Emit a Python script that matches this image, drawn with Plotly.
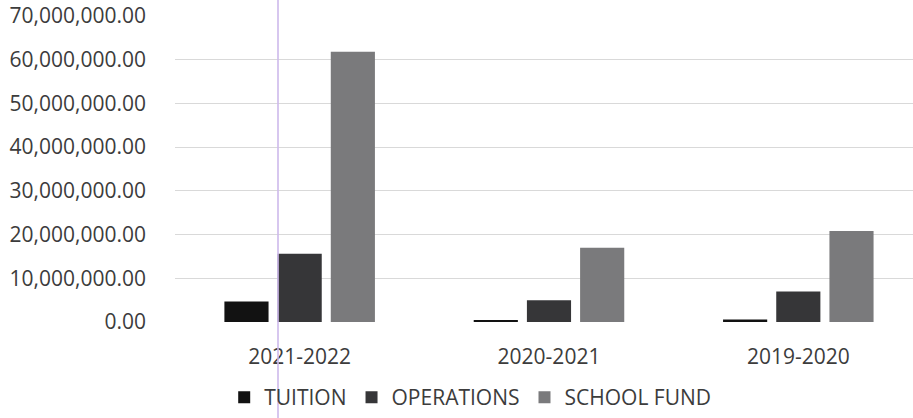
import plotly.graph_objects as go

# School years on the category axis
years = ["2021-2022", "2020-2021", "2019-2020"]

# Amounts per fund, one value per school year
tuition = [4_700_000, 400_000, 600_000]
operations = [15_600_000, 5_000_000, 7_000_000]
school_fund = [61_800_000, 17_000_000, 20_800_000]

series_names = ["TUITION", "OPERATIONS", "SCHOOL FUND"]
series_colors = ["#121212", "#363638", "#7a7a7c"]

y_ticks = [0, 10_000_000, 20_000_000, 30_000_000, 40_000_000,
           50_000_000, 60_000_000, 70_000_000]
y_tick_text = [f"{v:,.2f}" for v in y_ticks]

FONT = "Open Sans"
TEXT_COLOR = "#3c3c3c"

fig = go.Figure()
for name, values, color in zip(series_names,
                               [tuition, operations, school_fund],
                               series_colors):
    fig.add_trace(go.Bar(
        name=name,
        x=years,
        y=values,
        marker=dict(color=color, line=dict(width=0)),
    ))

fig.update_layout(
    width=913,
    height=418,
    paper_bgcolor="white",
    plot_bgcolor="white",
    margin=dict(l=175, r=0, t=16, b=96, autoexpand=False),
    barmode="group",
    bargap=0.36,
    bargroupgap=0.17,
    font=dict(family=FONT, size=21, color=TEXT_COLOR),
    showlegend=True,
    legend=dict(
        orientation="h",
        xref="paper",
        x=0.40,
        xanchor="center",
        yref="container",
        y=-0.014,
        yanchor="bottom",
        bgcolor="rgba(0,0,0,0)",
        font=dict(family=FONT, size=21, color=TEXT_COLOR),
        itemwidth=30,
        traceorder="normal",
    ),
    xaxis=dict(
        type="category",
        range=[-0.5, 2.46],
        showgrid=False,
        showline=False,
        zeroline=False,
        ticks="",
        automargin=False,
        ticklabelstandoff=20,
        tickfont=dict(family=FONT, size=21, color=TEXT_COLOR),
    ),
    yaxis=dict(
        range=[0, 70_000_000],
        tickvals=y_ticks,
        ticktext=y_tick_text,
        showgrid=True,
        gridcolor="#d9d9d9",
        gridwidth=1,
        zeroline=False,
        showline=False,
        ticks="",
        automargin=False,
        ticklabelstandoff=28,
        tickfont=dict(family=FONT, size=21, color=TEXT_COLOR),
    ),
    shapes=[
        dict(
            type="line",
            xref="paper", yref="paper",
            x0=(278 - 175) / 738, x1=(278 - 175) / 738,
            y0=-0.32, y1=1.06,
            line=dict(color="rgba(205,185,235,0.8)", width=2),
            layer="above",
        )
    ],
)

fig.write_html("out.html")
